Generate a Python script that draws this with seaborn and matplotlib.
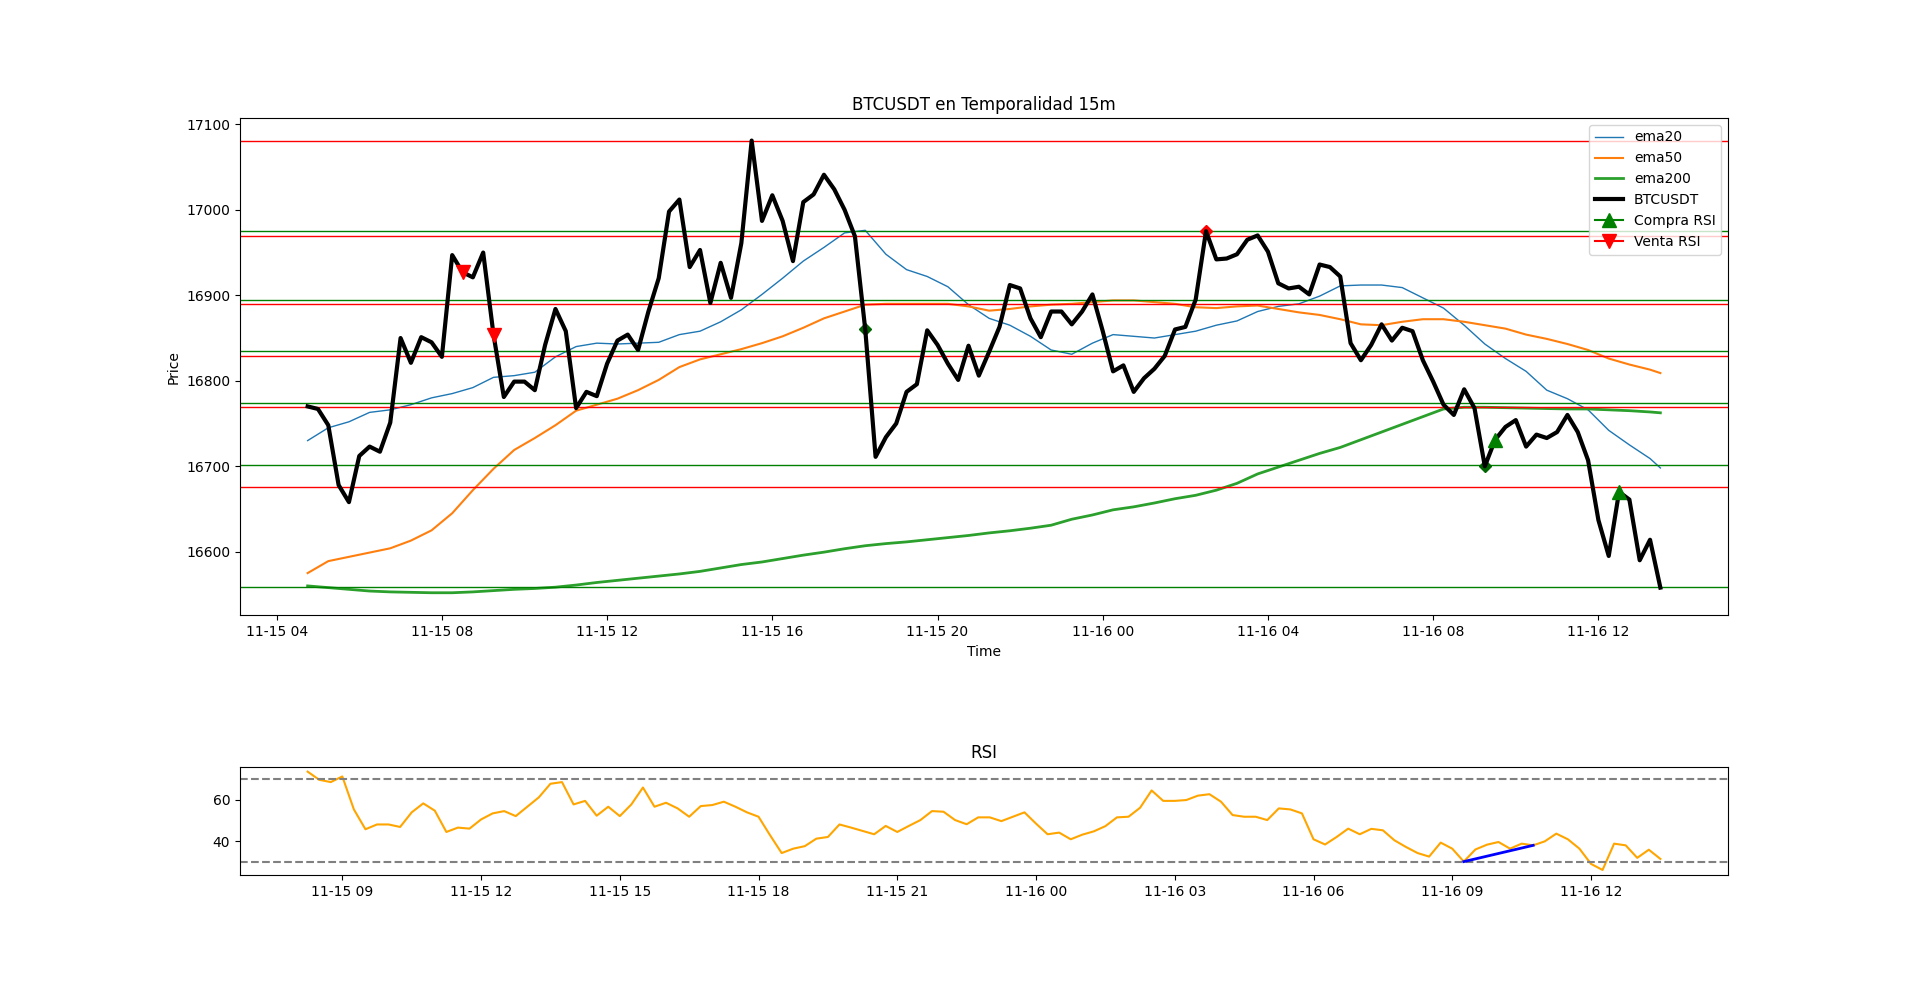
import matplotlib

matplotlib.use("Agg")
import matplotlib.pyplot as plt
import numpy as np
import pandas as pd
import seaborn as sns

# velas de 15m, BTCUSDT
start = "2022-11-15 04:45"
close = [
    16770, 16767, 16748, 16678, 16658, 16712, 16723, 16717, 16751, 16850,
    16821, 16851, 16845, 16828, 16947, 16927, 16921, 16950, 16854, 16781,
    16799, 16799, 16789, 16842, 16884, 16858, 16768, 16787, 16782, 16820,
    16847, 16854, 16836, 16881, 16920, 16998, 17012, 16933, 16953, 16891,
    16938, 16897, 16961, 17081, 16987, 17017, 16987, 16940, 17009, 17018,
    17041, 17024, 17000, 16969, 16860, 16711, 16734, 16750, 16787, 16796,
    16859, 16842, 16820, 16801, 16841, 16806, 16834, 16863, 16912, 16908,
    16873, 16851, 16881, 16881, 16866, 16881, 16901, 16858, 16811, 16818,
    16787, 16803, 16814, 16829, 16860, 16863, 16895, 16975, 16942, 16943,
    16948, 16965, 16970, 16951, 16914, 16908, 16910, 16901, 16936, 16933,
    16922, 16844, 16824, 16842, 16866, 16847, 16862, 16858, 16824, 16799,
    16772, 16760, 16790, 16768, 16700, 16731, 16746, 16754, 16723, 16737,
    16733, 16740, 16760, 16740, 16707, 16637, 16595, 16670, 16661, 16590,
    16614, 16558,
]

# medias leidas cada 30 min (mas la ultima vela)
ema20 = [
    16730, 16745, 16752, 16763, 16766, 16772, 16780, 16785, 16792, 16804,
    16806, 16810, 16828, 16840, 16844, 16843, 16844, 16845, 16854, 16858,
    16869, 16883, 16901, 16920, 16940, 16956, 16973, 16976, 16948, 16930,
    16922, 16910, 16889, 16873, 16865, 16852, 16836, 16831, 16844, 16854,
    16852, 16850, 16854, 16858, 16865, 16870, 16881, 16887, 16890, 16899,
    16911, 16912, 16912, 16909, 16897, 16885, 16865, 16843, 16826, 16811,
    16789, 16779, 16766, 16742, 16725, 16709, 16698,
]
ema50 = [
    16575, 16589, 16594, 16599, 16604, 16613, 16625, 16645, 16672, 16697,
    16719, 16733, 16748, 16765, 16772, 16779, 16789, 16801, 16816, 16825,
    16831, 16837, 16844, 16852, 16862, 16873, 16881, 16889, 16890, 16890,
    16890, 16890, 16887, 16882, 16884, 16887, 16889, 16890, 16892, 16894,
    16894, 16892, 16890, 16886, 16885, 16887, 16888, 16884, 16880, 16877,
    16872, 16866, 16865, 16869, 16872, 16872, 16869, 16865, 16861, 16854,
    16849, 16843, 16836, 16826, 16819, 16813, 16809,
]
ema200 = [
    16560, 16558, 16556, 16554, 16553, 16552.5, 16552, 16552, 16553, 16554.5,
    16556, 16557, 16558.5, 16561, 16564, 16566.5, 16569, 16571.5, 16574, 16577,
    16581, 16585, 16588, 16592, 16596, 16599.5, 16603.5, 16607, 16609.5, 16611.5,
    16614, 16616.5, 16619, 16622, 16624.5, 16627.5, 16631, 16638, 16643, 16649,
    16652.5, 16657, 16662, 16666, 16672, 16680, 16691, 16699, 16707, 16715,
    16722, 16731, 16740, 16749, 16758, 16767, 16769, 16769, 16768.5, 16768,
    16767.5, 16767, 16767, 16766, 16765, 16763.5, 16762.5,
]

# soportes (verde) y resistencias (rojo)
resistencias = [17081, 16969, 16890, 16829, 16769, 16676]
soportes = [16975, 16895, 16835, 16774, 16701, 16559]

# senales
venta_times = ["2022-11-15 08:30", "2022-11-15 09:15"]
venta_prices = [16927, 16854]
compra_times = ["2022-11-16 09:30", "2022-11-16 12:30"]
compra_prices = [16731, 16670]
pivot_times = ["2022-11-15 18:15", "2022-11-16 02:30", "2022-11-16 09:15"]
pivot_prices = [16860, 16975, 16700]
pivot_colors = ["darkgreen", "red", "darkgreen"]

# RSI (14)
rsi_start = "2022-11-15 08:15"
rsi = [
    73.4, 69.5, 68.4, 71.1, 55.3, 45.8, 48.1, 48.1, 46.9, 53.9,
    58.2, 54.7, 44.5, 46.6, 46.1, 50.5, 53.4, 54.5, 52.1, 56.6,
    61.1, 67.6, 68.4, 57.7, 59.4, 52.3, 56.6, 52.1, 57.7, 65.8,
    56.6, 58.5, 55.8, 51.8, 56.9, 57.4, 59.0, 56.6, 53.9, 51.8,
    42.9, 34.4, 36.5, 37.7, 41.3, 42.1, 48.1, 46.6, 45.0, 43.4,
    47.4, 44.5, 47.4, 50.2, 54.5, 54.2, 50.2, 48.2, 51.5, 51.5,
    49.7, 51.8, 53.9, 48.5, 43.4, 44.2, 41.0, 43.2, 44.8, 47.3,
    51.5, 51.8, 56.1, 64.4, 59.4, 59.4, 59.8, 61.9, 62.6, 59.0,
    52.6, 51.8, 51.8, 50.2, 55.8, 55.3, 53.4, 41.0, 38.5, 42.1,
    46.1, 43.4, 46.0, 45.3, 40.5, 37.3, 34.4, 32.7, 39.4, 36.5,
    30.3, 36.1, 38.4, 39.7, 36.5, 38.9, 38.1, 40.0, 43.7, 41.0,
    36.5, 29.2, 26.3, 38.9, 38.1, 32.1, 36.0, 31.6,
]
divergencia_times = ["2022-11-16 09:15", "2022-11-16 10:45"]
divergencia_rsi = [30.3, 38.1]

times = pd.date_range(start, periods=len(close), freq="15min")
ema_times = list(times[::2]) + [times[-1]]
rsi_times = pd.date_range(rsi_start, periods=len(rsi), freq="15min")

# series con NaN salvo en las senales (asi no se unen los puntos)
compra = pd.Series(np.nan, index=times)
compra.loc[pd.to_datetime(compra_times)] = compra_prices
venta = pd.Series(np.nan, index=times)
venta.loc[pd.to_datetime(venta_times)] = venta_prices

fig = plt.figure(figsize=(19.2, 9.83), dpi=100)
ax = plt.subplot2grid((6, 1), (0, 0), rowspan=4)
ax_rsi = plt.subplot2grid((6, 1), (5, 0), rowspan=1)

sns.lineplot(x=ema_times, y=ema20, ax=ax, color="C0", linewidth=1, label="ema20")
sns.lineplot(x=ema_times, y=ema50, ax=ax, color="C1", linewidth=1.5, label="ema50")
sns.lineplot(x=ema_times, y=ema200, ax=ax, color="C2", linewidth=2, label="ema200")

for r in resistencias:
    ax.axhline(r, color="red", linewidth=1)
for s in soportes:
    ax.axhline(s, color="green", linewidth=1)

for t, p, c in zip(pd.to_datetime(pivot_times), pivot_prices, pivot_colors):
    ax.plot([t], [p], "D", color=c, markersize=6)

sns.lineplot(x=times, y=close, ax=ax, color="black", linewidth=3, label="BTCUSDT")
ax.plot(times, compra.values, marker="^", color="green", markersize=10, label="Compra RSI")
ax.plot(times, venta.values, marker="v", color="red", markersize=10, label="Venta RSI")

ax.set_title("BTCUSDT en Temporalidad 15m")
ax.set_xlabel("Time")
ax.set_ylabel("Price")
ax.legend(loc="upper right")

sns.lineplot(x=rsi_times, y=rsi, ax=ax_rsi, color="orange", linewidth=1.5)
ax_rsi.axhline(70, color="gray", linestyle="--", linewidth=1.5)
ax_rsi.axhline(30, color="gray", linestyle="--", linewidth=1.5)
ax_rsi.plot(pd.to_datetime(divergencia_times), divergencia_rsi, color="blue", linewidth=2)
ax_rsi.set_title("RSI")
ax_rsi.set_xlabel("")
ax_rsi.set_ylabel("")

fig.savefig("out.png", dpi=100)
